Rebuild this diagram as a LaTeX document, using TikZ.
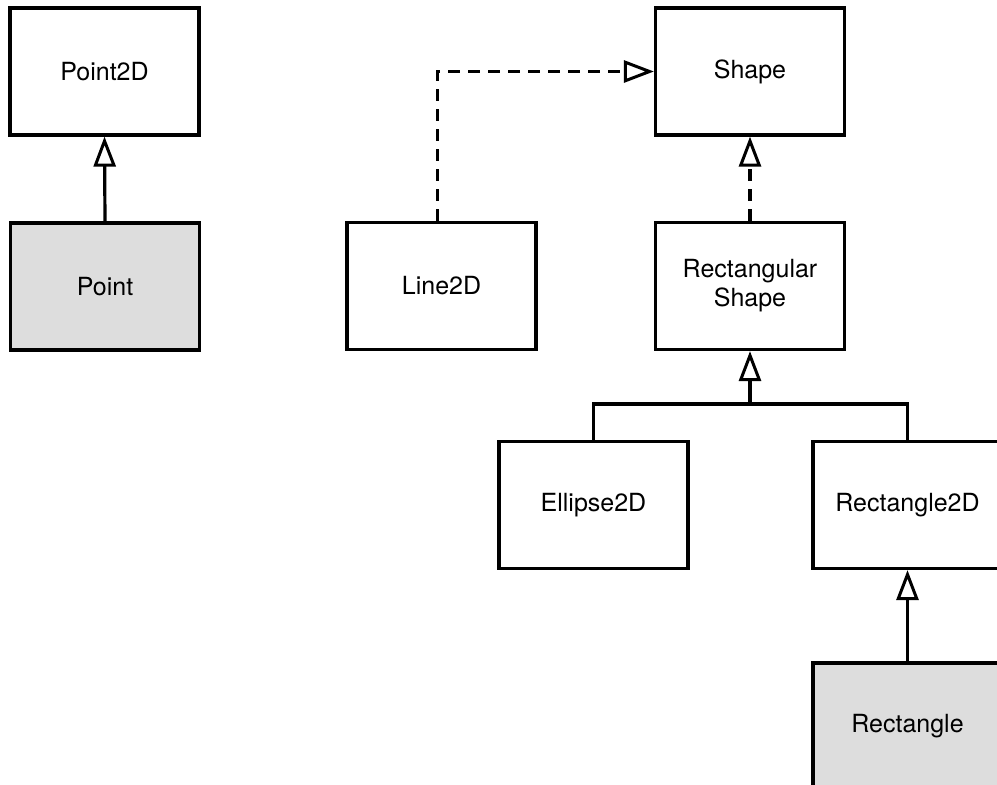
\documentclass[tikz,border=0pt]{standalone}
\usepackage{fontspec}
\setmainfont{TeX Gyre Heros}
\usetikzlibrary{arrows.meta}
\definecolor{boxgray}{RGB}{221,221,221}
\tikzset{
  cls/.style={draw=black, line width=3.2pt, fill=white, minimum width=189pt, minimum height=127pt,
    inner sep=0pt, align=center, font=\fontsize{25}{29}\selectfont},
  concrete/.style={cls, fill=boxgray},
  conn/.style={line width=3.2pt},
  gen/.style={conn, -{Triangle[open, length=30pt, width=22pt, line width=3pt]}},
  real/.style={gen, dash pattern=on 12pt off 8pt}
}
\begin{document}
\begin{tikzpicture}[x=1pt, y=-1pt]
\useasboundingbox (0,0) rectangle (997,785);
\clip (0,0) rectangle (997,785);
\node[cls] (p2d) at (104.5,71.5) {Point2D};
\node[concrete] (pt) at (105,286.5) {Point};
\node[cls] (shape) at (750,71.5) {Shape};
\node[cls] (line2d) at (441.5,286) {Line2D};
\node[cls] (rshape) at (750,286) {Rectangular\\Shape};
\node[cls] (ell) at (593.5,505) {Ellipse2D};
\node[cls] (r2d) at (907.5,505) {Rectangle2D};
\node[concrete] (rect) at (907.5,726.5) {Rectangle};
\coordinate (bar) at (750,404);
\draw[gen] (pt.north) -- (p2d.south);
\draw[real] ([xshift=-4pt]line2d.north) |- (shape.west);
\draw[real] (rshape.north) -- (shape.south);
\draw[conn] (ell.north) |- (bar) -| (r2d.north);
\draw[gen] (bar) -- (rshape.south);
\draw[gen] (rect.north) -- (r2d.south);
\end{tikzpicture}
\end{document}
